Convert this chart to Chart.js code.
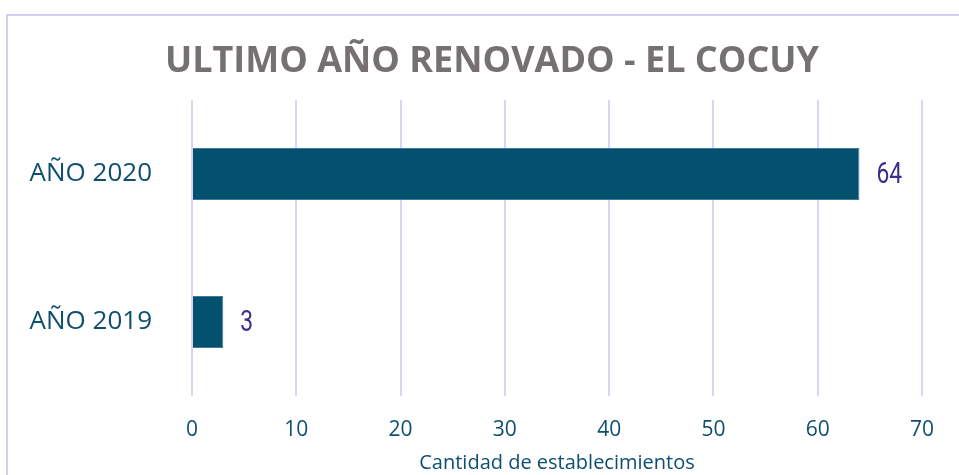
<!DOCTYPE html>
<html>
<head>
<meta charset="utf-8">
<script src="https://cdn.jsdelivr.net/npm/chart.js@4"></script>
<style>
  html, body { margin: 0; padding: 0; background: #fff; }
  #wrap { width: 959px; height: 475px; position: relative; }
</style>
</head>
<body>
<div id="wrap"><canvas id="barChart" width="959" height="475"></canvas></div>
<script>
// chart data
const categories = ["AÑO 2020", "AÑO 2019"];
const values = [64, 3];
const xTicks = [0, 10, 20, 30, 40, 50, 60, 70];

const labelFont = "'Open Sans', 'Noto Sans', sans-serif";

// outer frame like the spreadsheet chart box
const framePlugin = {
  id: "frame",
  beforeDraw(chart) {
    const ctx = chart.ctx;
    ctx.save();
    ctx.fillStyle = "#fff";
    ctx.fillRect(0, 0, chart.width, chart.height);
    ctx.strokeStyle = "#d3cff0";
    ctx.lineWidth = 2;
    ctx.strokeRect(7, 15, 1200, 1000);
    ctx.restore();
  },
  afterLayout(chart) {
    // the original box is wider than the window, so its title sits right of centre
    if (chart.titleBlock) {
      chart.titleBlock.left += 62;
    }
  },
};

// value labels at the end of each bar (narrow figures like the source)
const valueLabels = {
  id: "valueLabels",
  afterDatasetsDraw(chart) {
    const ctx = chart.ctx;
    const meta = chart.getDatasetMeta(0);
    meta.data.forEach((bar, i) => {
      ctx.save();
      ctx.translate(bar.x + 17, bar.y + 1);
      ctx.scale(0.76, 1);
      ctx.font = "30px Roboto, sans-serif";
      ctx.fillStyle = "#3b2e8c";
      ctx.textAlign = "left";
      ctx.textBaseline = "middle";
      ctx.fillText(String(values[i]), 0, 0);
      ctx.restore();
    });
  },
};

const ctx = document.getElementById("barChart").getContext("2d");
new Chart(ctx, {
  type: "bar",
  data: {
    labels: categories,
    datasets: [
      {
        data: values,
        backgroundColor: "#04506f",
        borderColor: "#3f7a96",
        borderWidth: 1,
        barPercentage: 0.7,
        categoryPercentage: 0.5,
      },
    ],
  },
  options: {
    indexAxis: "y",
    responsive: false,
    animation: false,
    layout: { padding: { left: 0, right: 37, top: 0, bottom: 0 } },
    plugins: {
      legend: { display: false },
      tooltip: { enabled: false },
      title: {
        display: true,
        text: "ULTIMO AÑO RENOVADO - EL COCUY",
        color: "#767171",
        font: { family: labelFont, size: 36, weight: "bold" },
        padding: { top: 40, bottom: 16.8 },
      },
    },
    scales: {
      x: {
        min: 0,
        max: 70,
        afterBuildTicks(scale) {
          scale.ticks = xTicks.map((v) => ({ value: v }));
        },
        afterFit(scale) {
          scale.height = 79;
        },
        grid: { color: "#d9d5f2", lineWidth: 2, drawTicks: false },
        border: { display: false },
        ticks: {
          color: "#0e4f70",
          padding: 21,
          font: { family: labelFont, size: 21 },
        },
        title: {
          display: true,
          text: "Cantidad de establecimientos",
          color: "#0e4f70",
          font: { family: labelFont, size: 20 },
          padding: { top: 0, bottom: 0 },
        },
      },
      y: {
        afterFit(scale) {
          scale.width = 192;
        },
        grid: { display: false },
        border: { display: false },
        ticks: {
          color: "#0e4f70",
          padding: 32,
          font: { family: labelFont, size: 26 },
        },
      },
    },
  },
  plugins: [framePlugin, valueLabels],
});
</script>
</body>
</html>
